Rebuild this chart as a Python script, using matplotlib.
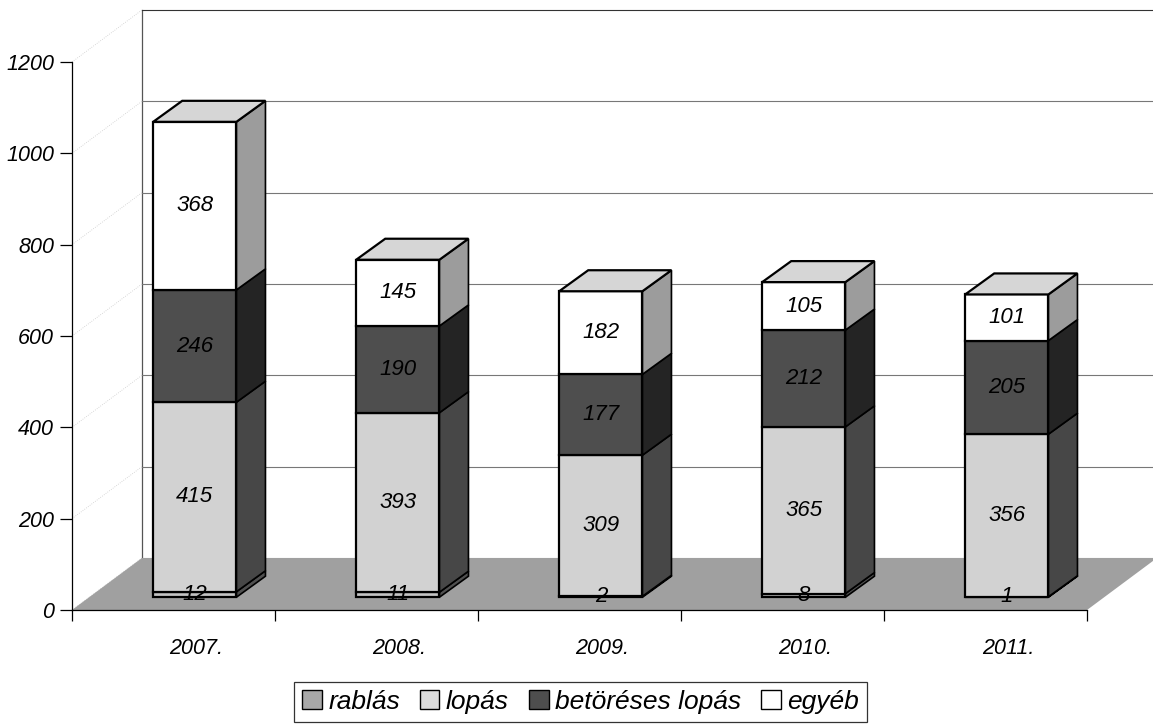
import matplotlib
matplotlib.use('Agg')
import matplotlib.pyplot as plt
from matplotlib.patches import Polygon, Patch

# DATA ######################################
years = ['2007.', '2008.', '2009.', '2010.', '2011.']
series = ['rablás', 'lopás', 'betöréses lopás', 'egyéb']
rablas = [12, 11, 2, 8, 1]
lopas = [415, 393, 309, 365, 356]
betoreses = [246, 190, 177, 212, 205]
egyeb = [368, 145, 182, 105, 101]
yticks = [0, 200, 400, 600, 800, 1000, 1200]

# STYLE #####################################
plt.rcParams['font.family'] = ['Liberation Sans', 'DejaVu Sans']
plt.rcParams['hatch.color'] = '#8c8c8c'
plt.rcParams['hatch.linewidth'] = 0.6

# (front, side, top) colours for each series
colors = [('#c4c4c4', '#505050', '#cfcfcf'),
          ('#d2d2d2', '#474747', '#d8d8d8'),
          ('#4e4e4e', '#242424', '#5a5a5a'),
          ('#ffffff', '#9c9c9c', '#d6d6d6')]
legend_colors = ['#a8a8a8', '#dcdcdc', '#4e4e4e', '#ffffff']

# 3D offsets (x in category units, y in value units)
BX, BY = 0.345, 114     # back wall
FX, FY = 0.0, 28        # front of the bars above the floor front
DX, DY = 0.143, 46      # depth of a bar
bar_center = 0.605
bar_half = 0.205

fig = plt.figure(figsize=(11.53, 7.26), dpi=100)
ax = fig.add_axes([72/1153, 116/726, 1015/1153, 548/726])
ax.set_xlim(0, 5)
ax.set_ylim(0, 1200)

# back wall and grid lines
xr = 5 + BX + 0.1
ax.plot([BX, BX], [BY, 1200 + BY], color='#555555', lw=0.9, clip_on=False, zorder=1)
for v in yticks[1:]:
    c = '#333333' if v == yticks[-1] else '#777777'
    ax.plot([BX, xr], [v + BY, v + BY], color=c, lw=0.8, clip_on=False, zorder=1)
for v in yticks:
    ax.plot([0, BX], [v, v + BY], color='#cccccc', lw=0.6, ls=':', clip_on=False, zorder=1)

# floor
floor = Polygon([(0, 0), (BX, BY), (5 + BX, BY), (5, 0)], closed=True,
                facecolor='#a0a0a0', edgecolor='none', hatch='...', clip_on=False, zorder=2)
ax.add_patch(floor)

# BARS ######################################
data = [rablas, lopas, betoreses, egyeb]
for i in range(len(years)):
    x0 = i + bar_center - bar_half + FX
    x1 = i + bar_center + bar_half + FX
    base = FY
    for k, vals in enumerate(data):
        v = vals[i]
        fc, sc, tc = colors[k]
        y0, y1 = base, base + v
        side = Polygon([(x1, y0), (x1 + DX, y0 + DY), (x1 + DX, y1 + DY), (x1, y1)],
                       facecolor=sc, edgecolor='black', lw=1.2, clip_on=False, zorder=3)
        front = Polygon([(x0, y0), (x1, y0), (x1, y1), (x0, y1)],
                        facecolor=fc, edgecolor='black', lw=1.6, clip_on=False, zorder=4)
        ax.add_patch(side)
        ax.add_patch(front)
        if k == len(data) - 1:
            top = Polygon([(x0, y1), (x1, y1), (x1 + DX, y1 + DY), (x0 + DX, y1 + DY)],
                          facecolor=tc, edgecolor='black', lw=1.6, clip_on=False, zorder=4)
            ax.add_patch(top)
        ax.text((x0 + x1) / 2, y0 + v / 2, str(v), ha='center', va='center',
                fontsize=16, style='italic', color='black', zorder=6)
        base = y1

# AXES ######################################
for s in ['top', 'right']:
    ax.spines[s].set_visible(False)
ax.spines['left'].set_linewidth(0.9)
ax.spines['bottom'].set_linewidth(0.9)
ax.set_yticks(yticks)
ax.set_yticklabels([str(t) for t in yticks], fontsize=15.5, style='italic')
ax.tick_params(axis='y', direction='out', length=9, width=0.9, pad=4)

ax.set_xticks(range(len(years) + 1))
ax.set_xticklabels([])
ax.tick_params(axis='x', which='major', direction='out', length=8, width=0.9)
ax.set_xticks([i + 0.61 for i in range(len(years))], minor=True)
ax.set_xticklabels(years, minor=True, fontsize=15.5, style='italic')
ax.tick_params(axis='x', which='minor', length=0, pad=20)
ax.patch.set_visible(False)

# LEGEND ####################################
handles = [Patch(facecolor=c, edgecolor='black', lw=1.0) for c in legend_colors]
leg = fig.legend(handles, series, loc='upper center', bbox_to_anchor=(0.5035, 0.061),
                 ncol=4, frameon=True, fancybox=False, edgecolor='black',
                 prop={'size': 19, 'style': 'italic'}, handlelength=0.75, handleheight=0.75,
                 columnspacing=0.75, handletextpad=0.25, borderpad=0.3, borderaxespad=0)
leg.get_frame().set_linewidth(0.9)

fig.savefig('out.png', dpi=100)
